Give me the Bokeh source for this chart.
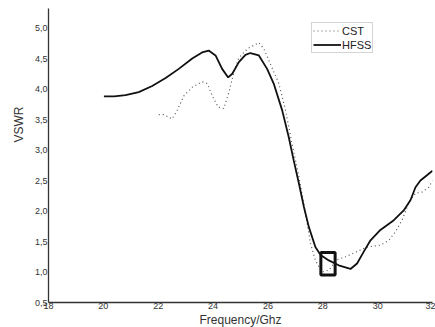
from bokeh.plotting import figure
from bokeh.models import Range1d, FixedTicker, CustomJSTickFormatter, Legend, LegendItem, Title
from bokeh.embed import file_html
from bokeh.resources import INLINE

hfss_freq = [20.02, 20.4, 20.81, 21.29, 21.78, 22.27, 22.75, 23.24, 23.6, 23.84, 24.09, 24.33,
             24.55, 24.7, 24.94, 25.18, 25.36, 25.67, 25.97, 26.21, 26.52, 26.76, 26.94, 27.13,
             27.31, 27.49, 27.73, 27.92, 28.22, 28.58, 29.01, 29.25, 29.49, 29.74, 30.1, 30.59,
             30.95, 31.2, 31.38, 31.56, 31.81, 32.0]
hfss_vswr = [3.88, 3.88, 3.90, 3.95, 4.05, 4.18, 4.33, 4.50, 4.60, 4.63, 4.55, 4.33,
             4.19, 4.25, 4.44, 4.56, 4.59, 4.55, 4.33, 4.09, 3.65, 3.21, 2.83, 2.45,
             2.07, 1.74, 1.41, 1.28, 1.19, 1.11, 1.05, 1.14, 1.33, 1.52, 1.69, 1.85,
             2.01, 2.18, 2.39, 2.50, 2.59, 2.66]

cst_freq = [22.02, 22.2, 22.51, 22.69, 22.94, 23.24, 23.6, 23.79, 23.97, 24.19, 24.39, 24.58,
            24.76, 24.94, 25.25, 25.67, 25.85, 26.09, 26.4, 26.64, 26.88, 27.13, 27.37, 27.55,
            27.73, 27.97, 28.22, 28.52, 28.83, 29.13, 29.37, 29.62, 30.1, 30.41, 30.65, 30.89,
            31.15, 31.38, 31.62, 31.86, 32.0]
cst_vswr = [3.58, 3.58, 3.51, 3.65, 3.89, 4.03, 4.12, 4.09, 3.89, 3.70, 3.68, 3.95,
            4.28, 4.51, 4.66, 4.76, 4.66, 4.41, 4.09, 3.65, 3.10, 2.56, 1.96, 1.47,
            1.19, 1.00, 1.03, 1.20, 1.25, 1.31, 1.36, 1.41, 1.44, 1.52, 1.66, 1.85,
            2.15, 2.29, 2.31, 2.39, 2.50]

x_ticks = [18, 20, 22, 24, 26, 28, 30, 32]
y_ticks = [0.5, 1.0, 1.5, 2.0, 2.5, 3.0, 3.5, 4.0, 4.5, 5.0]

box_freq = [27.93, 28.45]
box_vswr = [0.95, 1.32]

FONT = "Liberation Sans"

p = figure(frame_width=384, frame_height=294, output_backend="svg", toolbar_location=None,
           x_range=Range1d(18, 32), y_range=Range1d(0.5, 5.32),
           min_border_left=48, min_border_right=3, min_border_top=8, min_border_bottom=20)
p.outline_line_color = None
p.xgrid.visible = False
p.ygrid.visible = False

for ax in (p.xaxis[0], p.yaxis[0]):
    ax.major_tick_line_color = None
    ax.minor_tick_line_color = None
    ax.major_tick_out = 0
    ax.major_tick_in = 0
    ax.minor_tick_out = 0
    ax.minor_tick_in = 0
    ax.axis_line_color = "#333333"
    ax.axis_line_width = 1.3
    ax.major_label_text_font = FONT
    ax.major_label_text_font_size = "9px"
    ax.major_label_text_color = "#333333"
    ax.major_label_standoff = 1

p.xaxis.major_label_standoff = 0
p.xaxis.ticker = FixedTicker(ticks=x_ticks)
p.yaxis.ticker = FixedTicker(ticks=y_ticks)
p.yaxis.formatter = CustomJSTickFormatter(code="return tick.toFixed(1).replace('.', ',');")
p.xaxis.axis_label = "Frequency/Ghz"
p.xaxis.axis_label_text_font = FONT
p.xaxis.axis_label_text_font_size = "12px"
p.xaxis.axis_label_text_font_style = "normal"
p.xaxis.axis_label_text_color = "#333333"
p.xaxis.axis_label_standoff = 1

ytitle = Title(text="VSWR", align="right", offset=98, text_font=FONT,
               text_font_size="12px", text_font_style="normal", text_color="#333333",
               standoff=12)
p.add_layout(ytitle, "left")

r_cst = p.line(cst_freq, cst_vswr, line_color="#555555", line_width=1.2, line_dash="1 3")
r_hfss = p.line(hfss_freq, hfss_vswr, line_color="#111111", line_width=1.8)
p.quad(left=[box_freq[0]], right=[box_freq[1]], bottom=[box_vswr[0]], top=[box_vswr[1]],
       fill_color=None, line_color="#111111", line_width=3)

legend = Legend(items=[LegendItem(label="CST", renderers=[r_cst]),
                       LegendItem(label="HFSS", renderers=[r_hfss])],
                location=(263, 249), orientation="vertical")
legend.label_text_font = FONT
legend.label_text_font_size = "11px"
legend.label_text_color = "#222222"
legend.glyph_width = 28
legend.glyph_height = 13
legend.label_height = 13
legend.label_standoff = 1
legend.padding = 1
legend.spacing = 1
legend.margin = 0
legend.border_line_color = "#aaaaaa"
legend.border_line_width = 1
legend.background_fill_alpha = 1
p.add_layout(legend)

open("out.html", "w").write(file_html(p, INLINE))
